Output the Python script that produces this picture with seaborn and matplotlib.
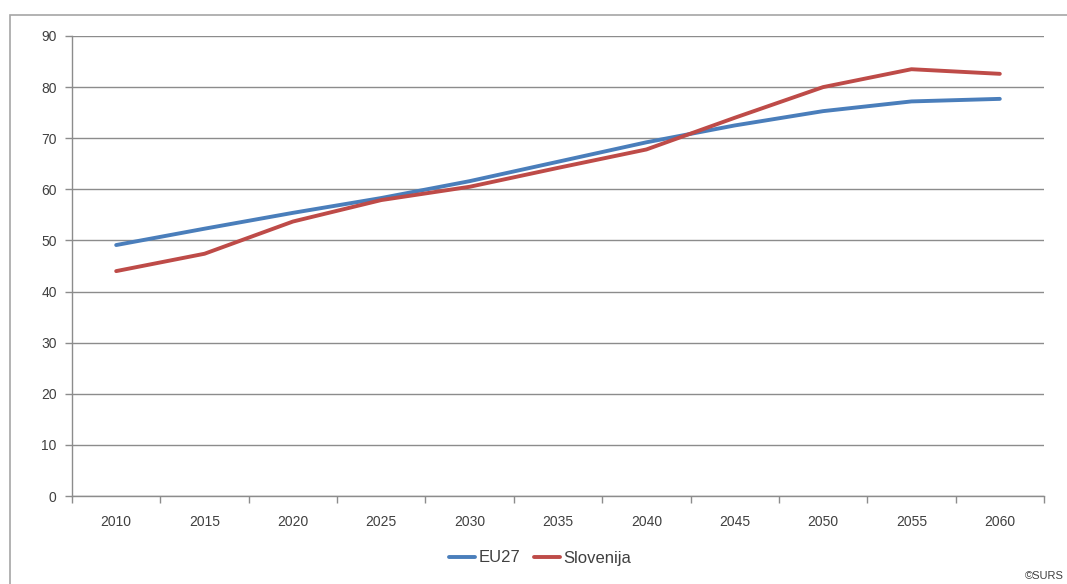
import matplotlib
matplotlib.use('Agg')
import matplotlib.pyplot as plt
from matplotlib.patches import Rectangle
from matplotlib.ticker import MultipleLocator, FixedLocator
import pandas as pd
import seaborn as sns

# Podatki (odčitani s slike)
years = [2010, 2015, 2020, 2025, 2030, 2035, 2040, 2045, 2050, 2055, 2060]
eu27 = [49.1, 52.3, 55.4, 58.3, 61.6, 65.4, 69.2, 72.5, 75.3, 77.2, 77.7]
slovenija = [44.0, 47.4, 53.7, 57.9, 60.5, 64.2, 67.8, 74.0, 80.0, 83.5, 82.6]
series_names = ['EU27', 'Slovenija']
series_colors = ['#4a7ebb', '#be4b48']

df = pd.DataFrame({'leto': years * 2,
                   'vrednost': eu27 + slovenija,
                   'serija': [series_names[0]] * len(years) + [series_names[1]] * len(years)})

sns.set_theme(style='white')
plt.rcParams['font.family'] = ['Liberation Sans Narrow', 'Liberation Sans', 'DejaVu Sans']

fig = plt.figure(figsize=(10.67, 5.84), dpi=100)
ax = fig.add_axes([72 / 1067, 1 - 496 / 584, (1044 - 72) / 1067, (496 - 36) / 584])

sns.lineplot(data=df, x='leto', y='vrednost', hue='serija', hue_order=series_names,
             palette=series_colors, linewidth=2.8, ax=ax, legend=False)

grid_color = '#8c8c8c'
ax.set_xlim(years[0] - 2.5, years[-1] + 2.5)
ax.set_ylim(0, 90)
ax.yaxis.set_major_locator(MultipleLocator(10))
ax.set_xticks(years)
ax.xaxis.set_minor_locator(FixedLocator([y - 2.5 for y in years] + [years[-1] + 2.5]))
ax.grid(axis='y', color=grid_color, linewidth=1)
ax.set_axisbelow(True)
ax.set_xlabel('')
ax.set_ylabel('')

for side in ['top', 'right']:
    ax.spines[side].set_visible(False)
for side in ['left', 'bottom']:
    ax.spines[side].set_color(grid_color)
    ax.spines[side].set_linewidth(1)

ax.tick_params(axis='y', which='major', length=5, width=1, color=grid_color,
               labelsize=10, labelcolor='#404040', pad=6, left=True)
ax.tick_params(axis='x', which='major', length=0, labelsize=10, labelcolor='#404040', pad=14)
ax.tick_params(axis='x', which='minor', length=5, width=1, color=grid_color, bottom=True)

handles = [plt.Line2D([], [], color=c, linewidth=2.8) for c in series_colors]
fig.legend(handles, series_names, loc='center', bbox_to_anchor=(540 / 1067, 1 - 558 / 584),
           ncol=2, frameon=False, fontsize=12, handlelength=1.6, handletextpad=0.2,
           columnspacing=0.8, labelcolor='#404040')

fig.text(1064 / 1067, 1 - 576 / 584, '©SURS', fontsize=8, color='#404040', va='center', ha='right')

fig.add_artist(Rectangle((10 / 1067, -0.1), 1.2, 1 - 15 / 584 + 0.1, transform=fig.transFigure,
                         fill=False, edgecolor='#a6a6a6', linewidth=1.2))

fig.savefig('out.png', dpi=100)
